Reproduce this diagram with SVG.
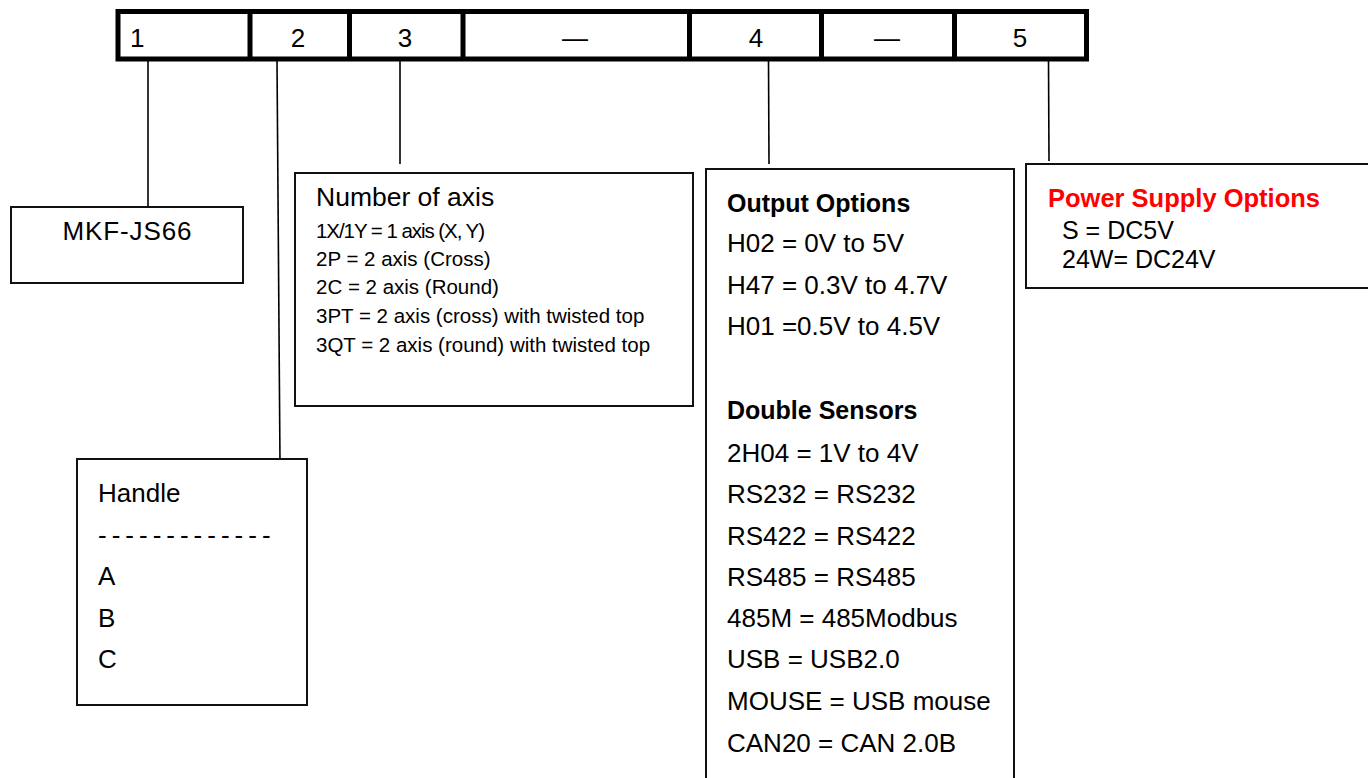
<svg xmlns="http://www.w3.org/2000/svg" width="1368" height="778" viewBox="0 0 1368 778">
<style>
text{font-family:"Liberation Sans",Arial,sans-serif;fill:#000}
.bar{fill:#fff;stroke:#000;stroke-width:5}
.div{stroke:#000;stroke-width:5}
.box{fill:#fff;stroke:#111;stroke-width:2}
.con{stroke:#000;stroke-width:1.6;fill:none}
.num{font-size:26px}
.t{font-size:26px}
.p{font-size:25px}
.h{font-size:26.5px}
.s{font-size:20.5px}
.b{font-size:25px;font-weight:bold}
.red{fill:#f00;font-size:25.5px}
.dash{letter-spacing:5px}
</style>
<rect width="1368" height="778" fill="#fff"/>
<g id="code-bar">
<rect class="bar" x="118" y="11.5" width="968.5" height="47.5"/>
<line class="div" x1="250" y1="11.5" x2="250" y2="59"/>
<line class="div" x1="349.5" y1="11.5" x2="349.5" y2="59"/>
<line class="div" x1="463" y1="11.5" x2="463" y2="59"/>
<line class="div" x1="689.5" y1="11.5" x2="689.5" y2="59"/>
<line class="div" x1="821.5" y1="11.5" x2="821.5" y2="59"/>
<line class="div" x1="954.5" y1="11.5" x2="954.5" y2="59"/>
<text class="num" x="130" y="47">1</text>
<text class="num" x="298" y="47" text-anchor="middle">2</text>
<text class="num" x="405" y="47" text-anchor="middle">3</text>
<text class="num" x="575" y="47" text-anchor="middle">—</text>
<text class="num" x="756" y="47" text-anchor="middle">4</text>
<text class="num" x="887" y="47" text-anchor="middle">—</text>
<text class="num" x="1020" y="47" text-anchor="middle">5</text>
</g>
<g id="connectors">
<line class="con" x1="148" y1="61" x2="148" y2="207"/>
<line class="con" x1="277" y1="61" x2="280" y2="463"/>
<line class="con" x1="400" y1="61" x2="400" y2="164"/>
<line class="con" x1="768.5" y1="61" x2="769" y2="164"/>
<line class="con" x1="1048.5" y1="61" x2="1049" y2="161"/>
</g>
<g id="model">
<rect class="box" x="11" y="207" width="232" height="76"/>
<text class="t" x="127" y="240" text-anchor="middle" textLength="129">MKF-JS66</text>
</g>
<g id="axis">
<rect class="box" x="295" y="173" width="398" height="233"/>
<text class="h" x="316" y="206">Number of axis</text>
<text class="s" x="316" y="238" textLength="169">1X/1Y = 1 axis (X, Y)</text>
<text class="s" x="316" y="266">2P = 2 axis (Cross)</text>
<text class="s" x="316" y="294">2C = 2 axis (Round)</text>
<text class="s" x="316" y="323">3PT = 2 axis (cross) with twisted top</text>
<text class="s" x="316" y="352">3QT = 2 axis (round) with twisted top</text>
</g>
<g id="handle">
<rect class="box" x="77" y="459" width="230" height="246"/>
<text class="t" x="98" y="502">Handle</text>
<text class="t dash" x="98" y="544">-------------</text>
<text class="t" x="98" y="585">A</text>
<text class="t" x="98" y="627">B</text>
<text class="t" x="98" y="668">C</text>
</g>
<g id="output">
<rect class="box" x="706" y="169" width="308" height="620"/>
<text class="b" x="727" y="212">Output Options</text>
<text class="t" x="727" y="252">H02 = 0V to 5V</text>
<text class="t" x="727" y="294">H47 = 0.3V to 4.7V</text>
<text class="t" x="727" y="335">H01 =0.5V to 4.5V</text>
<text class="b" x="727" y="419">Double Sensors</text>
<text class="t" x="727" y="462">2H04 = 1V to 4V</text>
<text class="t" x="727" y="503">RS232 = RS232</text>
<text class="t" x="727" y="545">RS422 = RS422</text>
<text class="t" x="727" y="586">RS485 = RS485</text>
<text class="t" x="727" y="627">485M = 485Modbus</text>
<text class="t" x="727" y="668">USB = USB2.0</text>
<text class="t" x="727" y="710">MOUSE = USB mouse</text>
<text class="t" x="727" y="752">CAN20 = CAN 2.0B</text>
</g>
<g id="power">
<rect class="box" x="1026" y="164" width="350" height="124"/>
<text class="b red" x="1048" y="207">Power Supply Options</text>
<text class="p" x="1062" y="239">S = DC5V</text>
<text class="p" x="1062" y="268">24W= DC24V</text>
</g>
</svg>
